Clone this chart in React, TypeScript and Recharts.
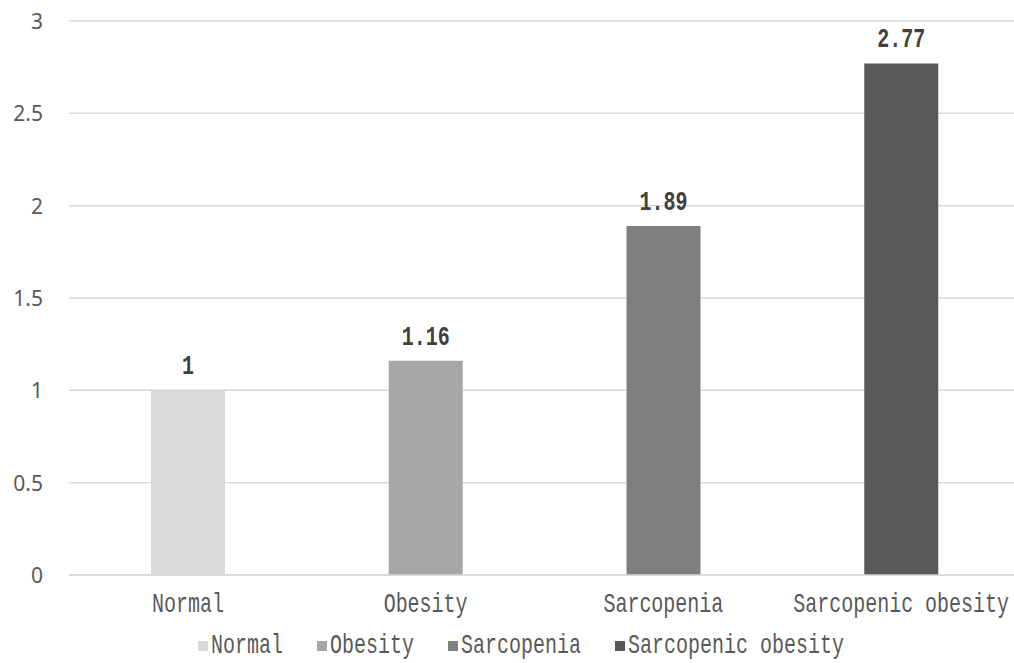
import React from 'react';
import { BarChart, Bar, XAxis, YAxis, CartesianGrid, Cell, LabelList } from 'recharts';

const categories = ['Normal', 'Obesity', 'Sarcopenia', 'Sarcopenic obesity'];
const values = [1, 1.16, 1.89, 2.77];
const valueLabels = ['1', '1.16', '1.89', '2.77'];
const colors = ['#d9d9d9', '#a6a6a6', '#7f7f7f', '#595959'];
const yTicks = [0, 0.5, 1, 1.5, 2, 2.5, 3];

const data = categories.map((name, i) => ({ name, value: values[i], label: valueLabels[i] }));

const MONO = '"Liberation Mono", "DejaVu Sans Mono", monospace';
const STRETCH = 1.35;

const XTick = (props: any) => {
  const { x, y, payload } = props;
  return (
    <g transform={`translate(${x},${y + 37})`}>
      <text textAnchor="middle" transform={`scale(1,${STRETCH})`} fontFamily={MONO} fontSize={20} fill="#595959">
        {payload.value}
      </text>
    </g>
  );
};

const YTick = (props: any) => {
  const { x, y, payload } = props;
  return (
    <text x={x} y={y + 8} textAnchor="end" fontFamily='"Noto Sans", "Open Sans", sans-serif' fontSize={21} fill="#595959">
      {String(payload.value)}
    </text>
  );
};

const ValueLabel = (props: any) => {
  const { x, y, width, index } = props;
  const cx = Number(x) + Number(width) / 2;
  const by = Number(y) - 16;
  return (
    <g transform={`translate(${cx},${by})`}>
      <text textAnchor="middle" transform={`scale(1,${STRETCH})`} fontFamily={MONO} fontWeight="bold" fontSize={20} fill="#404040">
        {data[index].label}
      </text>
    </g>
  );
};

const LegendRow = () => {
  let cursor = 198;
  const items = categories.map((name, i) => {
    const sx = cursor;
    const tx = sx + 13;
    cursor = tx + name.length * 12 + 34;
    return (
      <g key={name}>
        <rect x={sx} y={641} width={10} height={10} fill={colors[i]} />
        <g transform={`translate(${tx},653)`}>
          <text transform={`scale(1,${STRETCH})`} fontFamily={MONO} fontSize={20} fill="#595959">
            {name}
          </text>
        </g>
      </g>
    );
  });
  return (
    <svg width={1014} height={663} style={{ position: 'absolute', left: 0, top: 0, pointerEvents: 'none' }}>
      {items}
    </svg>
  );
};

export default function App() {
  return (
    <div style={{ position: 'absolute', left: 0, top: 0, width: 1014, height: 663, overflow: 'hidden', background: '#ffffff' }}>
      <BarChart width={1020} height={663} data={data} margin={{ top: 21, right: 0, bottom: 58, left: 0 }}>
        <CartesianGrid vertical={false} stroke="#d9d9d9" strokeWidth={1.5} />
        <XAxis
          dataKey="name"
          height={30}
          axisLine={{ stroke: '#d9d9d9', strokeWidth: 1.5 }}
          tickLine={false}
          tickSize={0}
          tickMargin={0}
          tick={<XTick />}
          interval={0}
        />
        <YAxis
          domain={[0, 3]}
          ticks={yTicks}
          width={69}
          axisLine={false}
          tickLine={false}
          tickSize={0}
          tickMargin={26}
          tick={<YTick />}
          interval={0}
        />
        <Bar dataKey="value" barSize={74} isAnimationActive={false}>
          {data.map((d, i) => (
            <Cell key={d.name} fill={colors[i]} />
          ))}
          <LabelList dataKey="value" content={<ValueLabel />} />
        </Bar>
      </BarChart>
      <LegendRow />
    </div>
  );
}
